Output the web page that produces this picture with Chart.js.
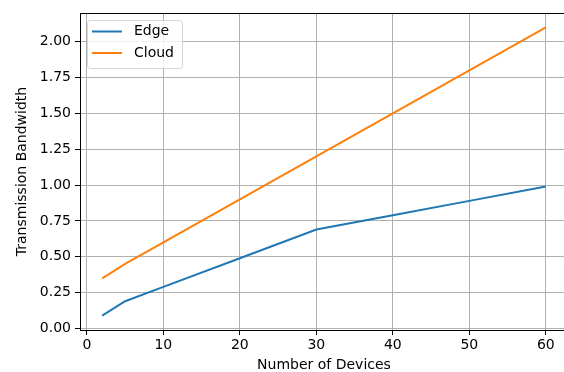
<!DOCTYPE html>
<html>
<head>
<meta charset="utf-8">
<script src="https://cdn.jsdelivr.net/npm/chart.js@4/dist/chart.umd.min.js"></script>
<style>
  html, body { margin: 0; padding: 0; background: #ffffff; overflow: hidden; }
  #wrap { width: 564px; height: 372px; overflow: hidden; position: relative; }
  #chart { position: absolute; left: 0; top: 0; }
</style>
</head>
<body>
<div id="wrap"><canvas id="chart" width="600" height="372"></canvas></div>
<script>
// Bandwidth needed for transmission as the number of devices grows
const devices = [2, 5, 10, 20, 30, 40, 50, 60];
const edgeBandwidth = [0.09, 0.19, 0.29, 0.49, 0.69, 0.79, 0.89, 0.99];
const cloudBandwidth = [0.35, 0.45, 0.60, 0.90, 1.20, 1.50, 1.80, 2.10];
const xTickValues = [0, 10, 20, 30, 40, 50, 60];
const yTickValues = [0, 0.25, 0.5, 0.75, 1.0, 1.25, 1.5, 1.75, 2.0];

const FONT = 'DejaVu Sans';
const FS = 14;

function toPoints(xs, ys) {
  return xs.map((x, i) => ({ x: x, y: ys[i] }));
}

// Axis limits with 5% margins around the data
function padRange(values, frac) {
  const lo = Math.min(...values), hi = Math.max(...values);
  const m = (hi - lo) * frac;
  return { min: lo - m, max: hi + m };
}
const xRange = padRange(devices, 0.05);
const yRange = padRange(edgeBandwidth.concat(cloudBandwidth), 0.05);

// Frame on all four sides of the plot area
const framePlugin = {
  id: 'frame',
  afterDatasetsDraw(chart) {
    const { ctx, chartArea: a } = chart;
    ctx.save();
    ctx.strokeStyle = '#000000';
    ctx.lineWidth = 1;
    ctx.strokeRect(Math.round(a.left) + 0.5, Math.round(a.top) + 0.5,
                   Math.round(a.right - a.left), Math.round(a.bottom - a.top));
    ctx.restore();
  }
};

// Boxed legend in the upper-left corner of the plot
const boxLegendPlugin = {
  id: 'boxLegend',
  afterDraw(chart) {
    const { ctx, chartArea: a } = chart;
    const sets = chart.data.datasets;
    const x0 = a.left + 7, y0 = a.top + 7;
    const w = 95, rowH = 21.5, h = 48;
    ctx.save();
    ctx.beginPath();
    ctx.roundRect(x0 + 0.5, y0 + 0.5, w, h, 3);
    ctx.fillStyle = 'rgba(255,255,255,0.8)';
    ctx.fill();
    ctx.strokeStyle = 'rgba(204,204,204,0.8)';
    ctx.lineWidth = 1;
    ctx.stroke();
    ctx.font = FS + 'px "' + FONT + '"';
    ctx.textBaseline = 'middle';
    ctx.textAlign = 'left';
    sets.forEach((ds, i) => {
      const cy = y0 + 11.5 + i * rowH;
      ctx.beginPath();
      ctx.moveTo(x0 + 5, cy);
      ctx.lineTo(x0 + 35, cy);
      ctx.strokeStyle = ds.borderColor;
      ctx.lineWidth = 2;
      ctx.stroke();
      ctx.fillStyle = '#000000';
      ctx.fillText(ds.label, x0 + 47, cy);
    });
    ctx.restore();
  }
};

new Chart(document.getElementById('chart'), {
  type: 'line',
  data: {
    datasets: [
      {
        label: 'Edge',
        data: toPoints(devices, edgeBandwidth),
        borderColor: '#1f77b4',
        backgroundColor: '#1f77b4',
        borderWidth: 2,
        pointRadius: 0,
        tension: 0,
        fill: false
      },
      {
        label: 'Cloud',
        data: toPoints(devices, cloudBandwidth),
        borderColor: '#ff7f0e',
        backgroundColor: '#ff7f0e',
        borderWidth: 2,
        pointRadius: 0,
        tension: 0,
        fill: false
      }
    ]
  },
  options: {
    responsive: false,
    animation: false,
    devicePixelRatio: 1,
    layout: { padding: { left: 0, right: 32, top: 13, bottom: 0 } },
    plugins: {
      legend: { display: false },
      tooltip: { enabled: false }
    },
    scales: {
      x: {
        type: 'linear',
        min: xRange.min,
        max: xRange.max,
        afterBuildTicks(scale) { scale.ticks = xTickValues.map(v => ({ value: v })); },
        afterFit(scale) { scale.height = 42; },
        grid: {
          color: '#b0b0b0',
          lineWidth: 1,
          drawTicks: true,
          tickLength: 5,
          tickColor: '#000000'
        },
        border: { display: true, color: '#000000', width: 1 },
        ticks: {
          color: '#000000',
          font: { family: FONT, size: FS },
          padding: 2,
          maxRotation: 0,
          callback: v => String(v)
        },
        title: {
          display: true,
          text: 'Number of Devices',
          color: '#000000',
          font: { family: FONT, size: FS, lineHeight: 1.2 },
          padding: { top: 0, bottom: -2 }
        }
      },
      y: {
        type: 'linear',
        min: yRange.min,
        max: yRange.max,
        afterBuildTicks(scale) { scale.ticks = yTickValues.map(v => ({ value: v })); },
        afterFit(scale) { scale.width = 80; },
        grid: {
          color: '#b0b0b0',
          lineWidth: 1,
          drawTicks: true,
          tickLength: 5,
          tickColor: '#000000'
        },
        border: { display: true, color: '#000000', width: 1 },
        ticks: {
          color: '#000000',
          font: { family: FONT, size: FS },
          padding: 4,
          callback: v => v.toFixed(2)
        },
        title: {
          display: true,
          text: 'Transmission Bandwidth',
          color: '#000000',
          font: { family: FONT, size: FS, lineHeight: 1.2 },
          padding: { top: 14, bottom: 0 }
        }
      }
    }
  },
  plugins: [framePlugin, boxLegendPlugin]
});
</script>
</body>
</html>
